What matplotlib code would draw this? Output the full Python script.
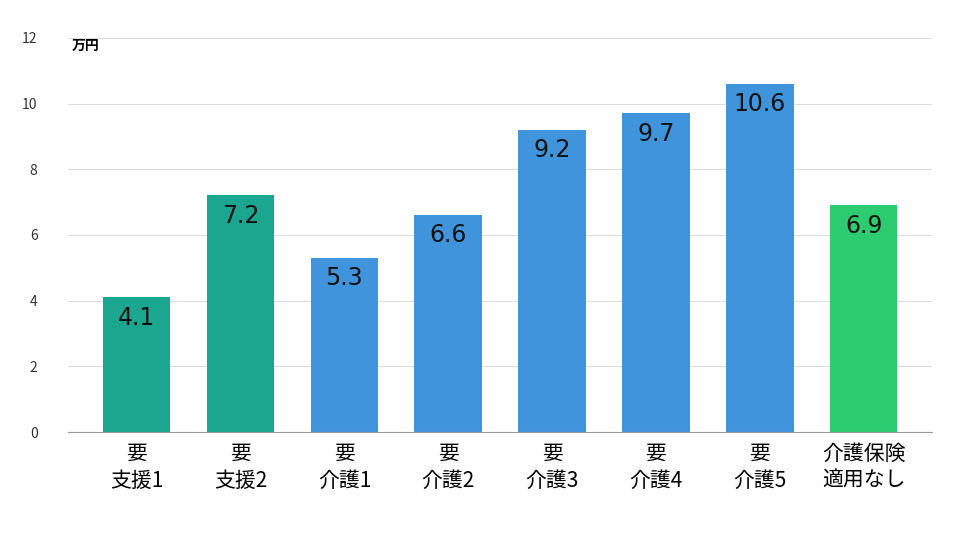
import matplotlib
matplotlib.use("Agg")
import matplotlib.pyplot as plt

categories = ["要\n支援1", "要\n支援2", "要\n介護1", "要\n介護2", "要\n介護3", "要\n介護4", "要\n介護5", "介護保険\n適用なし"]
values = [4.1, 7.2, 5.3, 6.6, 9.2, 9.7, 10.6, 6.9]
colors = ["#1ba68f", "#1ba68f", "#4094db", "#4094db", "#4094db", "#4094db", "#4094db", "#2ecc71"]
yticks = [0, 2, 4, 6, 8, 10, 12]

plt.rcParams["font.family"] = ["Noto Sans CJK JP", "DejaVu Sans"]
fig = plt.figure(figsize=(9.6, 5.4), dpi=100)
ax = fig.add_axes([0.071, 0.2, 0.9, 0.73])
x = range(len(values))
bars = ax.bar(x, values, width=0.65, color=colors, zorder=2)
for xi, v in zip(x, values):
    ax.text(xi, v - 0.25, f"{v}", ha="center", va="top", fontsize=17, color="#111111", family="DejaVu Sans")
ax.set_xlim(-0.66, 7.66)
ax.set_ylim(0, 12)
ax.set_yticks(yticks)
ax.set_yticklabels([str(t) for t in yticks], fontsize=10, color="#333333")
ax.grid(axis="y", color="#dddddd", linewidth=0.8, zorder=0)
ax.set_xticks(list(x))
ax.set_xticklabels(categories, fontsize=15, linespacing=1.3)
ax.tick_params(axis="x", length=0, pad=8)
ax.tick_params(axis="y", length=0, pad=22)
for s in ["top", "right", "left"]:
    ax.spines[s].set_visible(False)
ax.spines["bottom"].set_color("#999999")
fig.text(0.075, 0.915, "万円", fontsize=10, fontweight="bold", ha="left", va="center")
fig.savefig("out.png", dpi=100)
